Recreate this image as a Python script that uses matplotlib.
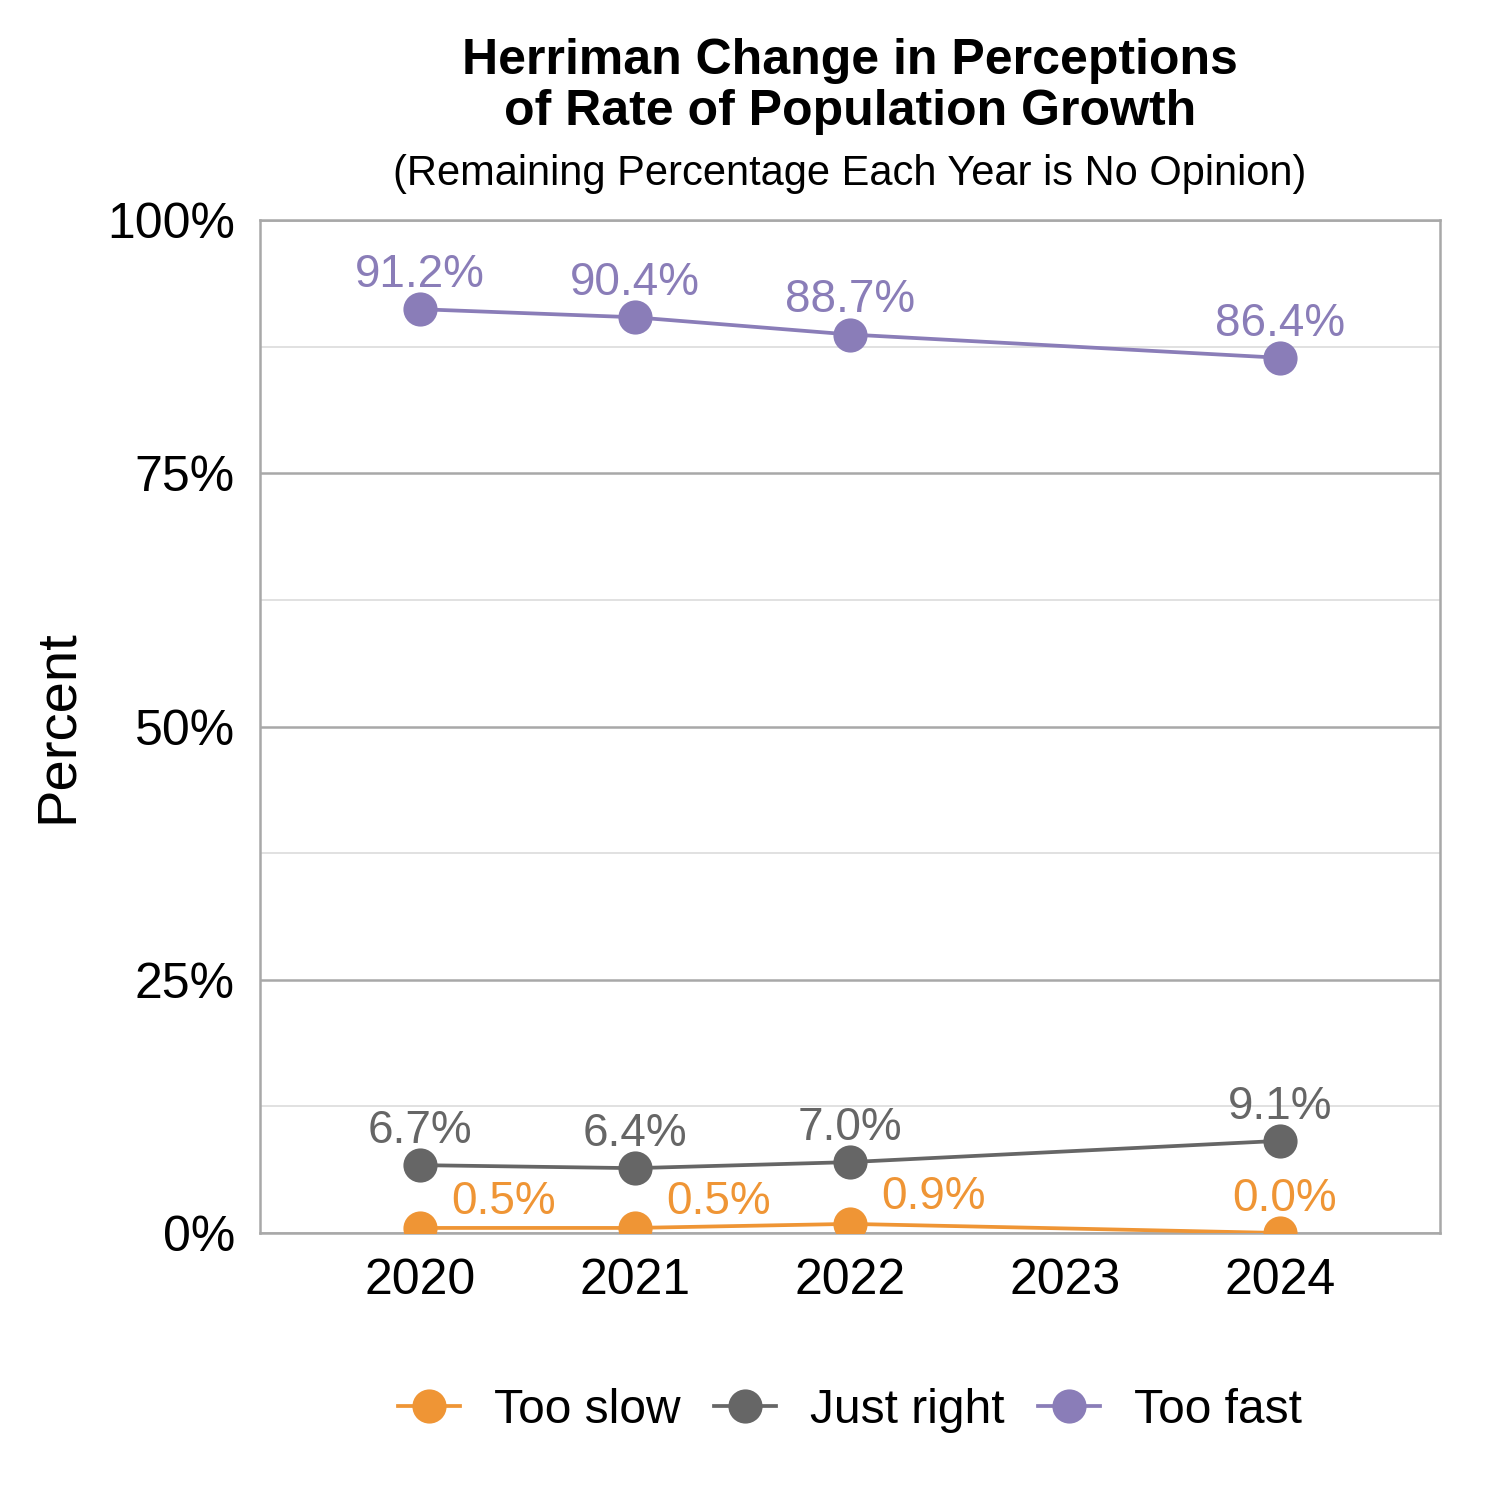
import matplotlib.pyplot as plt
import numpy as np

plt.rcParams['font.family'] = ['Liberation Sans', 'DejaVu Sans']

years = [2020, 2021, 2022, 2024]
too_slow = [0.5, 0.5, 0.9, 0.0]
just_right = [6.7, 6.4, 7.0, 9.1]
too_fast = [91.2, 90.4, 88.7, 86.4]
x_ticks = [2020, 2021, 2022, 2023, 2024]
y_ticks = [0, 25, 50, 75, 100]
y_tick_labels = ['0%', '25%', '50%', '75%', '100%']

series = [
    ('Too slow', too_slow, '#EF9535'),
    ('Just right', just_right, '#666666'),
    ('Too fast', too_fast, '#8A7DB8'),
]
# label offsets (points) for the orange series, nudged off the other points
slow_dx = [20, 20, 20, 1]
slow_dy = [6.3, 6.3, 6.5, 8.2]

fig = plt.figure(figsize=(5, 5), dpi=300)
ax = fig.add_axes([0.1733, 0.178, 0.7867, 0.6753])

for name, vals, col in series:
    ax.plot(years, vals, color=col, lw=0.9, marker='o', ms=7.2,
            label=name, zorder=3)
    for i, (xv, yv) in enumerate(zip(years, vals)):
        if name == 'Too slow':
            dx, dy = slow_dx[i], slow_dy[i]
        else:
            dx, dy = 0, 8.2
        ax.annotate('%.1f%%' % yv, (xv, yv), xytext=(dx, dy),
                    textcoords='offset points', ha='center', va='center',
                    color=col, fontsize=11, zorder=4)

ax.set_xlim(2019.256, 2024.744)
ax.set_ylim(0, 100)
ax.set_xticks(x_ticks)
ax.set_xticklabels([str(v) for v in x_ticks])
ax.set_yticks(y_ticks)
ax.set_yticklabels(y_tick_labels)
ax.set_yticks([12.5, 37.5, 62.5, 87.5], minor=True)
ax.tick_params(axis='both', which='both', length=0, labelsize=12, pad=6)
ax.grid(axis='y', which='major', color='#A8A8A8', lw=0.6, zorder=0)
ax.grid(axis='y', which='minor', color='#DCDCDC', lw=0.4, zorder=0)
for sp in ax.spines.values():
    sp.set_color('#A8A8A8')
    sp.set_linewidth(0.6)

ax.set_ylabel('Percent', fontsize=13.5)
ax.yaxis.set_label_coords(-0.149, 0.5)

fig.text(0.5667, 0.975, 'Herriman Change in Perceptions\nof Rate of Population Growth',
         ha='center', va='top', fontsize=12, fontweight='bold', linespacing=1.16)
fig.text(0.5667, 0.884, '(Remaining Percentage Each Year is No Opinion)',
         ha='center', va='center', fontsize=10)

ax.legend(loc='center', bbox_to_anchor=(0.5, -0.175), ncol=3, frameon=False,
          fontsize=11.5, handlelength=1.3, columnspacing=0.7, handletextpad=0.7)

fig.savefig('out.png', dpi=300)
